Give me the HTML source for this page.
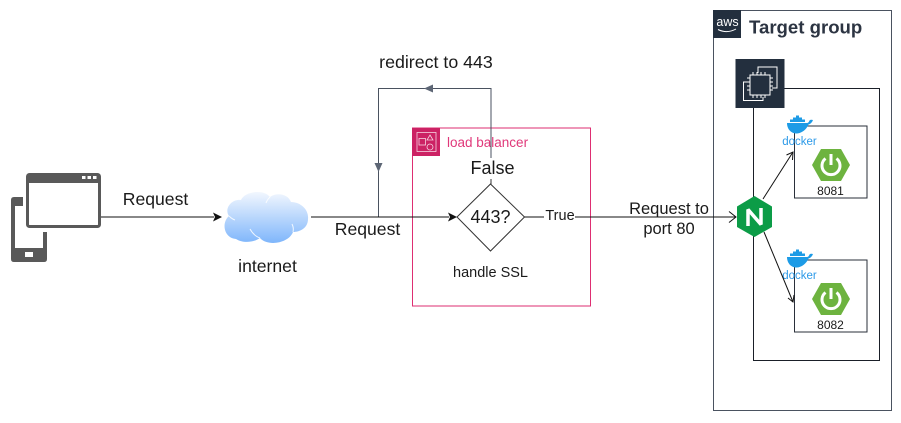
<!DOCTYPE html>
<html><head><meta charset="utf-8"><style>
html,body{margin:0;padding:0;background:#fff}
svg{display:block}
text{font-family:"Liberation Sans",sans-serif;fill:#1a1a1a}
</style></head><body>
<svg width="901" height="423" viewBox="0 0 901 423" xmlns="http://www.w3.org/2000/svg">
<defs>
<linearGradient id="cl" x1="0" y1="0" x2="0" y2="1"><stop offset="0" stop-color="#f2f7fe"/><stop offset="1" stop-color="#7fb6fb"/></linearGradient>
</defs>
<rect width="901" height="423" fill="#fff"/>

<!-- Target group -->
<rect x="713.5" y="10.5" width="178" height="400" fill="none" stroke="#4a5260" stroke-width="1"/>
<rect x="713" y="10" width="28" height="28" fill="#232f3e"/>
<text x="727.5" y="26" font-size="12.500" text-anchor="middle" style="fill:#fff">aws</text>
<path d="M718 29.500 Q727 34 736 29" fill="none" stroke="#fff" stroke-width="1"/>
<text x="749" y="33.500" font-size="18.600" font-weight="bold" style="fill:#2c3442">Target group</text>

<!-- EC2 frame -->
<path d="M784 88.500H879.500V360.500H753.500V108" fill="none" stroke="#1a1f28" stroke-width="1"/>
<rect x="735.500" y="59" width="49" height="49" fill="#232f3e"/>
<g fill="none" stroke="#fff" stroke-width="1">
<rect x="750" y="75" width="20" height="20"/>
<path d="M758 73V67H777V88H772M748 82H743.500V100.500H763V97"/>
<path d="M753 72v3M757 72v3M761 72v3M765 72v3M753 95v3M757 95v3M761 95v3M765 95v3M747 78h3M747 82h3M747 86h3M747 90h3M770 78h3M770 82h3M770 86h3M770 90h3"/>
</g>

<!-- app boxes -->
<rect x="794.500" y="126" width="72.500" height="72" fill="#fff" stroke="#2a2f3a" stroke-width="1"/>
<rect x="794.500" y="260" width="72.500" height="72" fill="#fff" stroke="#2a2f3a" stroke-width="1"/>

<!-- docker 1 -->
<g>
<path d="M787 123h20c1 0 2-1 2.500-2.500 1-1 2.500-.8 3.500-.5-1 2.500-2.500 4-4.500 4.500-2 5-7 9-12 9-6 0-9.500-5-9.500-10.500z" fill="#1d9be6"/>
<path d="M790 122v-2.500h3v-2h3v-2h3v2h3v2h3v2.500z" fill="#1d9be6"/>
<text x="799.500" y="145" font-size="11.500" text-anchor="middle" style="fill:#2d9ae8">docker</text>
</g>
<g transform="translate(0,134)">
<path d="M787 123h20c1 0 2-1 2.500-2.500 1-1 2.500-.8 3.500-.5-1 2.500-2.500 4-4.500 4.500-2 5-7 9-12 9-6 0-9.500-5-9.500-10.500z" fill="#1d9be6"/>
<path d="M790 122v-2.500h3v-2h3v-2h3v2h3v2h3v2.500z" fill="#1d9be6"/>
<text x="799.500" y="145" font-size="11.500" text-anchor="middle" style="fill:#2d9ae8">docker</text>
</g>

<!-- spring 1 -->
<g>
<polygon points="812,165 821,149 841,149 850,165 841,181 821,181" fill="#6db33f"/>
<path d="M825.500 158.500A9 9 0 1 0 836.500 158.500" fill="none" stroke="#fff" stroke-width="3"/>
<path d="M831 154V165" stroke="#fff" stroke-width="3" fill="none"/>
<text x="830.500" y="195" font-size="12" text-anchor="middle">8081</text>
</g>
<g transform="translate(0,134)">
<polygon points="812,165 821,149 841,149 850,165 841,181 821,181" fill="#6db33f"/>
<path d="M825.500 158.500A9 9 0 1 0 836.500 158.500" fill="none" stroke="#fff" stroke-width="3"/>
<path d="M831 154V165" stroke="#fff" stroke-width="3" fill="none"/>
<text x="830.500" y="195" font-size="12" text-anchor="middle">8082</text>
</g>

<!-- nginx connectors -->
<path d="M763 199L793 152" stroke="#111" stroke-width="1" fill="none"/>
<path d="M786.500 155L793 152 792.500 160" stroke="#111" stroke-width="1" fill="none"/>
<path d="M764 232L793 302" stroke="#111" stroke-width="1" fill="none"/>
<path d="M788 298L793 302 794 295" stroke="#111" stroke-width="1" fill="none"/>

<!-- nginx -->
<polygon points="754.500,196 772,206.500 772,227 754.500,237 737,227 737,206.500" fill="#0c9c47"/>
<path d="M748 226V209.500L761 224.500V208" fill="none" stroke="#fff" stroke-width="3.500" stroke-linejoin="bevel"/>

<!-- load balancer -->
<rect x="412.500" y="128" width="178" height="178" fill="none" stroke="#de2e72" stroke-width="1"/>
<rect x="412" y="128" width="28" height="28" fill="#cc2264"/>
<g fill="none" stroke="#f6d2e0" stroke-width="0.800">
<rect x="417" y="132.500" width="19" height="19"/>
<rect x="419" y="138.500" width="6.500" height="6.500"/>
<path d="M430 135l3 5h-6z"/>
<circle cx="430" cy="147" r="3"/>
</g>
<text x="447" y="147" font-size="13.500" style="fill:#e0387a">load balancer</text>

<!-- redirect -->
<path d="M491 158V88.500H378.500V217" fill="none" stroke="#4a5260" stroke-width="1"/>
<polygon points="424,88.500 433,84.500 433,92.500" fill="#5d6675"/>
<polygon points="378.500,172 374.500,163 382.500,163" fill="#5d6675"/>
<text x="436" y="68" font-size="17.800" text-anchor="middle">redirect to 443</text>
<path d="M491 179V184" stroke="#333" stroke-width="1"/>
<text x="492.500" y="174" font-size="18" text-anchor="middle">False</text>

<!-- decision -->
<polygon points="490.500,184 524.500,217 490.500,251 457,217" fill="#fff" stroke="#333" stroke-width="1"/>
<text x="490.500" y="223" font-size="18" text-anchor="middle">443?</text>
<text x="490.500" y="277" font-size="14.500" text-anchor="middle">handle SSL</text>

<!-- flow arrows -->
<path d="M100 217H214" stroke="#111" stroke-width="1"/>
<polygon points="222,217 213,212.500 215,217 213,221.500" fill="#111"/>
<path d="M311 217H449" stroke="#111" stroke-width="1"/>
<polygon points="457,217 448,212.500 450,217 448,221.500" fill="#111"/>
<path d="M524.500 217H544M575 217H736" stroke="#111" stroke-width="1"/>
<path d="M729 211.500L736 217 729 222.500" stroke="#111" stroke-width="1" fill="none"/>
<text x="560" y="220" font-size="14.500" text-anchor="middle">True</text>
<text x="669" y="214" font-size="16.500" text-anchor="middle">Request to</text>
<text x="669" y="234" font-size="16.500" text-anchor="middle">port 80</text>
<text x="155.500" y="205" font-size="17.600" text-anchor="middle">Request</text>
<text x="367.500" y="235" font-size="17.600" text-anchor="middle">Request</text>
<text x="267.500" y="272" font-size="17.600" text-anchor="middle">internet</text>

<!-- cloud -->
<path d="M236 239C224 238 221 223 229 216C224 209 231 199 241 200C245 191 264 189 270 197C277 192 288 194 291 202C301 202 309 210 308 219C308 228 300 232 293 232C289 243 268 247 260 238C253 243 242 243 236 239Z" fill="url(#cl)"/>
<g fill="none" stroke="#fff" stroke-width="1" opacity="0.850">
<path d="M250 229Q254 236 260 238"/>
<path d="M293 232Q294 228 292 224"/>
<path d="M229 216Q232 219 235 220"/>
<path d="M270 197Q267 200 266 203"/>
</g>

<!-- devices -->
<path d="M23 197H14Q11 197 11 200V259Q11 262 14 262H44Q47 262 47 259V232H43V248H15V206H23Z" fill="#595959"/>
<rect x="25" y="252" width="8" height="5" fill="#fff"/>
<rect x="27.500" y="174.500" width="72" height="52" rx="2" fill="#fff" stroke="#595959" stroke-width="3"/>
<rect x="27" y="174" width="73" height="9" fill="#595959"/>
<rect x="82" y="176" width="3.500" height="3" fill="#fff"/>
<rect x="87.500" y="176" width="3.500" height="3" fill="#fff"/>
<rect x="93" y="176" width="3.500" height="3" fill="#fff"/>
</svg>
</body></html>
